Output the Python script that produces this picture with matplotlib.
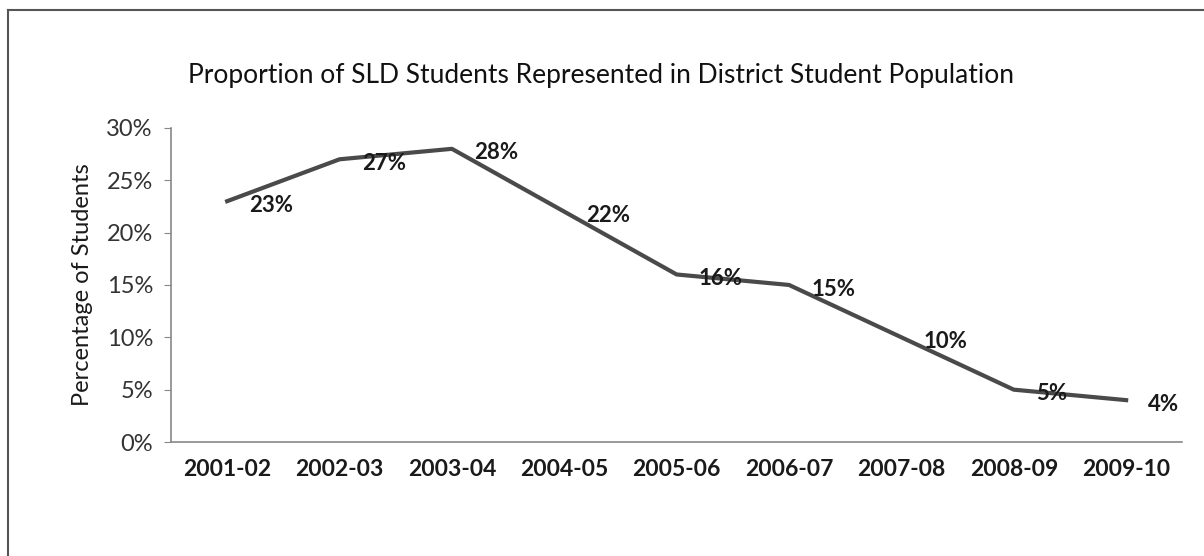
import matplotlib.pyplot as plt
from matplotlib.lines import Line2D

years = ["2001-02", "2002-03", "2003-04", "2004-05", "2005-06",
         "2006-07", "2007-08", "2008-09", "2009-10"]
pct = [23, 27, 28, 22, 16, 15, 10, 5, 4]

plt.rcParams["font.family"] = ["Lato", "DejaVu Sans"]

fig = plt.figure(figsize=(12.04, 5.56), dpi=100)
ax = fig.add_axes([0.142, 0.205, 0.840, 0.565])

x = range(len(years))
ax.plot(x, pct, color="#4a4a4a", linewidth=3, solid_joinstyle="round")

for i, v in enumerate(pct):
    ax.annotate(f"{v}%", (i, v), xytext=(16, -3), textcoords="offset points",
                ha="left", va="center", fontsize=16, fontweight="bold",
                color="#1a1a1a")

ax.set_xlim(-0.5, len(years) - 0.5)
ax.set_ylim(0, 30)
ax.set_yticks(range(0, 31, 5))
ax.set_yticklabels([f"{t}%" for t in range(0, 31, 5)], fontsize=17, color="#333333")
ax.set_xticks(list(x))
ax.set_xticklabels(years, fontsize=16.5, fontweight="bold", color="#1a1a1a")
ax.tick_params(axis="x", length=0, pad=12)
ax.tick_params(axis="y", length=5, color="#888888", pad=8)

for s in ["top", "right"]:
    ax.spines[s].set_visible(False)
for s in ["left", "bottom"]:
    ax.spines[s].set_color("#888888")
    ax.spines[s].set_linewidth(1.2)

ax.set_ylabel("Percentage of Students", fontsize=17, color="#1a1a1a", labelpad=10)
fig.text(0.499, 0.865, "Proportion of SLD Students Represented in District Student Population",
         ha="center", va="center", fontsize=19, color="#111111")

# outer frame
fig.add_artist(Line2D([8 / 1204, 8 / 1204], [0, 1 - 10 / 556],
                      transform=fig.transFigure, color="#555555", linewidth=1.5))
fig.add_artist(Line2D([8 / 1204, 1], [1 - 10 / 556, 1 - 10 / 556],
                      transform=fig.transFigure, color="#555555", linewidth=1.5))

fig.savefig("out.png", dpi=100)
plt.close(fig)
